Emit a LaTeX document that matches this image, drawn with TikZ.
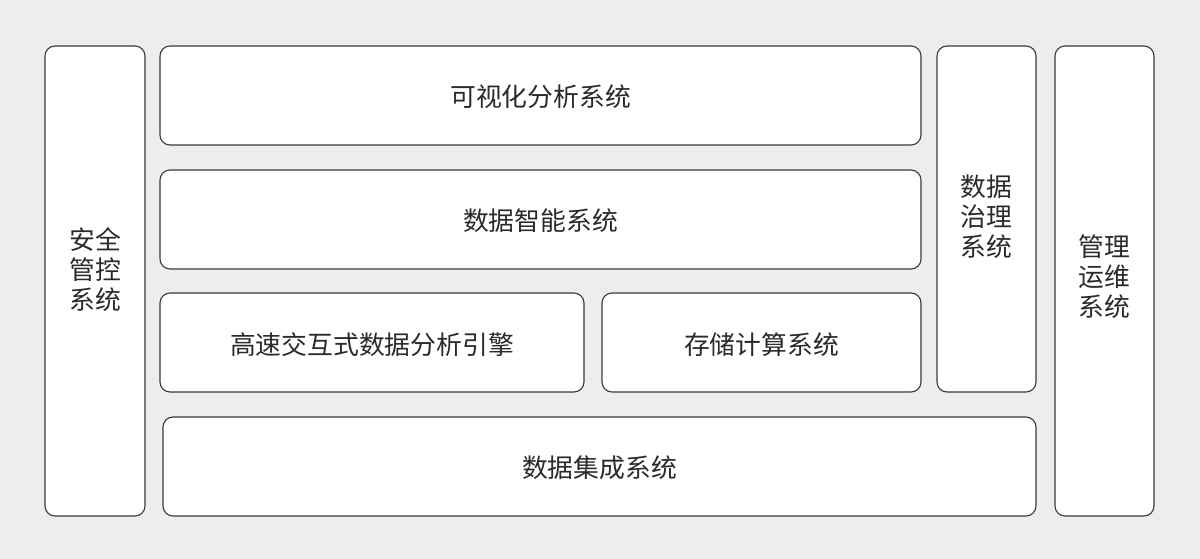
\documentclass[tikz,border=0pt]{standalone}
\usepackage{fontspec}
\newfontfamily\cjk{Noto Sans CJK SC}
\definecolor{bg}{HTML}{EDEDEF}
\definecolor{bd}{HTML}{3F3838}
\definecolor{tx}{HTML}{2A2A2A}
\tikzset{
  blk/.style={draw=bd, line width=1.1pt, fill=white, rounded corners=10pt},
  lbl/.style={text=tx, font=\cjk\fontsize{25.8}{30}\selectfont, align=center, inner sep=0pt}
}
\begin{document}
\begin{tikzpicture}[x=1pt,y=-1pt]
\fill[bg] (0,0) rectangle (1200,559);
\useasboundingbox (0,0) rectangle (1200,559);
\draw[blk] (45,46) rectangle (145,516);
\node[lbl] (a) at (95,270) {安全\\管控\\系统};
\draw[blk] (160,46) rectangle (921,145);
\node[lbl] (b) at (540.5,97) {可视化分析系统};
\draw[blk] (160,170) rectangle (921,269);
\node[lbl] (c) at (540.5,221) {数据智能系统};
\draw[blk] (160,293) rectangle (584,392);
\node[lbl] (d) at (372,345) {高速交互式数据分析引擎};
\draw[blk] (602,293) rectangle (921,392);
\node[lbl] (e) at (761.5,345) {存储计算系统};
\draw[blk] (163,417) rectangle (1036,516);
\node[lbl] (f) at (599.5,468) {数据集成系统};
\draw[blk] (937,46) rectangle (1036,392);
\node[lbl] (g) at (986.5,217) {数据\\治理\\系统};
\draw[blk] (1055,46) rectangle (1154,516);
\node[lbl] (h) at (1104.5,277) {管理\\运维\\系统};
\end{tikzpicture}
\end{document}
